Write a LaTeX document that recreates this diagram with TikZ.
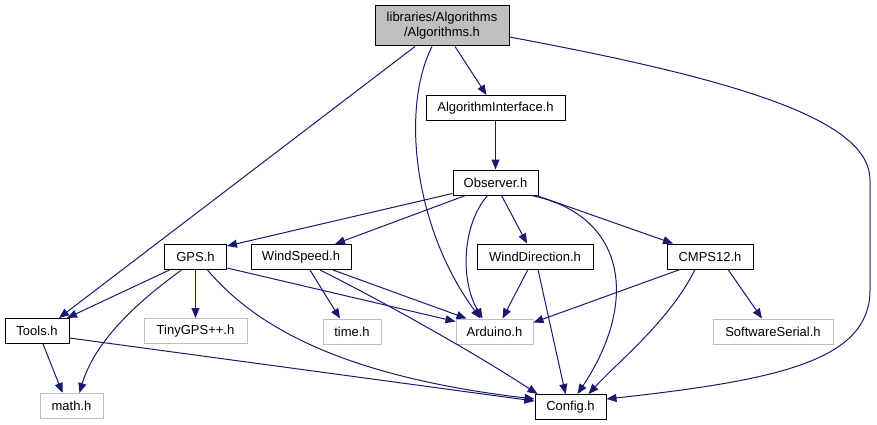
\documentclass[tikz,border=0pt]{standalone}
\usepackage{fontspec}
\setmainfont{Liberation Sans}
\usetikzlibrary{arrows.meta}
\definecolor{edgeblue}{HTML}{191970}

\begin{document}
\begin{tikzpicture}[x=1pt, y=-1pt, line width=1pt,
  file/.style={draw=black, fill=white, rectangle, minimum height=25pt, inner sep=0pt,
    font=\fontsize{13}{15}\selectfont},
  sysfile/.style={file, draw=gray!50},
  dep/.style={draw=edgeblue, -{Triangle[length=10pt, width=8pt]}}]
  \useasboundingbox (0,0) rectangle (877,425);

  \node[file, fill=gray!50, minimum width=134pt, minimum height=40pt, align=center]
    (root) at (442,26) {libraries/Algorithms\\/Algorithms.h};
  \node[file, minimum width=139pt] (iface)  at (495.5,108)   {AlgorithmInterface.h};
  \node[file, minimum width=85pt]  (obs)    at (495.5,182.5) {Observer.h};
  \node[file, minimum width=62pt]  (gps)    at (195.5,257)   {GPS.h};
  \node[file, minimum width=100pt] (wspeed) at (301,257)     {WindSpeed.h};
  \node[file, minimum width=116pt] (wdir)   at (535,256.5)   {WindDirection.h};
  \node[file, minimum width=86pt]  (cmps)   at (710,256.5)   {CMPS12.h};
  \node[file, minimum width=64pt]  (tools)  at (37,331)      {Tools.h};
  \node[sysfile, minimum width=103pt] (tiny) at (195.5,331)  {TinyGPS++.h};
  \node[sysfile, minimum width=58pt]  (time) at (352,331.5)  {time.h};
  \node[sysfile, minimum width=77pt]  (ard)  at (494.5,331.5) {Arduino.h};
  \node[sysfile, minimum width=120pt] (soft) at (773,331.5)  {SoftwareSerial.h};
  \node[sysfile, minimum width=63pt]  (math) at (71.5,406)   {math.h};
  \node[file, minimum width=71pt]  (config) at (570.5,407)   {Config.h};

  % Algorithms.h
  \draw[dep] ([xshift=13pt]root.south) -- ([xshift=-9pt]iface.north);
  \draw[dep] ([xshift=-27pt]root.south) -- ([xshift=22pt]tools.north);
  \draw[dep] ([xshift=-10pt]root.south) .. controls (400,110) and (415,230) .. ([xshift=-14pt]ard.north);
  \draw[dep] ([yshift=-11pt]root.east) .. controls (740,80) and (870,120) .. (870,180)
    -- (870,290) .. controls (870,360) and (780,380) .. ([yshift=8pt]config.east);

  \draw[dep] (iface) -- (obs);

  % Observer.h
  \draw[dep] ([yshift=2pt]obs.south west) -- ([yshift=-2pt]gps.north east);
  \draw[dep] ([xshift=-30pt]obs.south) -- ([xshift=34pt]wspeed.north);
  \draw[dep] ([xshift=-8pt]obs.south) .. controls (462,225) and (460,280) .. ([xshift=-12pt]ard.north);
  \draw[dep] ([xshift=6pt]obs.south) -- ([xshift=-8pt]wdir.north);
  \draw[dep] ([xshift=36pt]obs.south) .. controls (625,215) and (640,300) .. ([xshift=7pt]config.north);
  \draw[dep] ([xshift=-2pt]obs.south east) -- ([xshift=-37pt]cmps.north);

  % GPS.h
  \draw[dep] ([xshift=-26pt]gps.south) -- ([xshift=30pt]tools.north);
  \draw[dep] ([xshift=-14pt]gps.south) .. controls (140,300) and (95,340) .. ([xshift=8pt]math.north);
  \draw[dep] (gps) -- (tiny);
  \draw[dep] ([yshift=2pt]gps.south east) -- ([yshift=-3pt]ard.north west);
  \draw[dep] ([xshift=12pt]gps.south) .. controls (250,320) and (330,375) .. ([yshift=8pt]config.west);

  % WindSpeed.h
  \draw[dep] ([xshift=9pt]wspeed.south) -- ([xshift=-12pt]time.north);
  \draw[dep] ([xshift=32pt]wspeed.south) -- ([xshift=-28pt]ard.north);
  \draw[dep] ([xshift=19pt]wspeed.south) .. controls (380,300) and (470,350) .. ([xshift=3pt]config.north west);

  % WindDirection.h
  \draw[dep] ([xshift=-7pt]wdir.south) -- ([xshift=8pt]ard.north);
  \draw[dep] ([xshift=3pt]wdir.south) -- ([xshift=-5pt]config.north);

  % CMPS12.h
  \draw[dep] ([xshift=-30pt]cmps.south) -- ([yshift=-4pt]ard.north east);
  \draw[dep] ([xshift=-15pt]cmps.south) .. controls (670,320) and (620,360) .. ([xshift=18pt]config.north);
  \draw[dep] ([xshift=18pt]cmps.south) -- ([xshift=-11pt]soft.north);

  % Tools.h
  \draw[dep] ([xshift=6pt]tools.south) -- ([xshift=-9pt]math.north);
  \draw[dep] ([yshift=-7pt]tools.east) -- ([yshift=6pt]config.west);
\end{tikzpicture}
\end{document}
